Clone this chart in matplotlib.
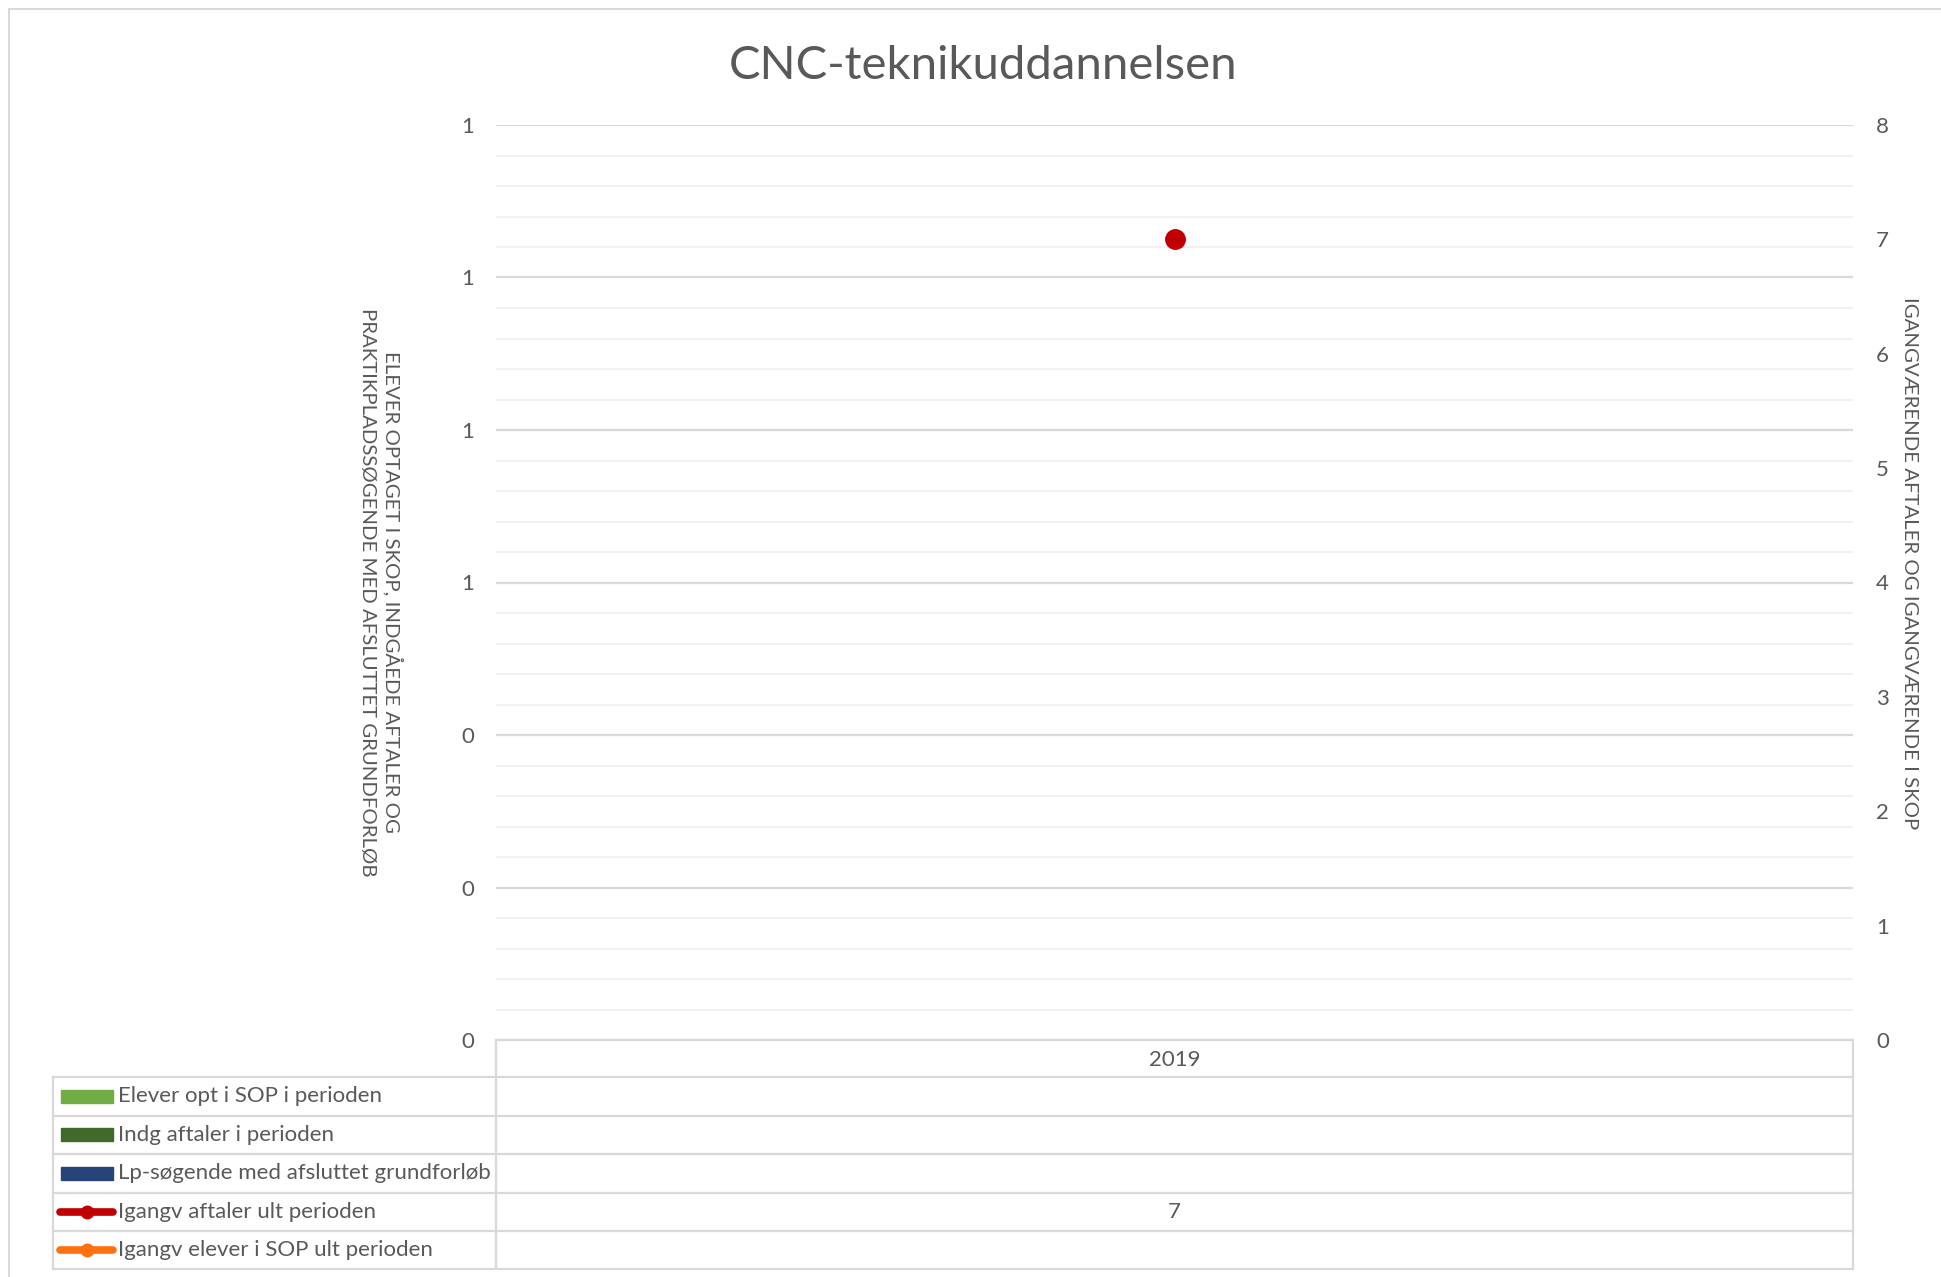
import matplotlib
matplotlib.use("Agg")
import matplotlib.pyplot as plt
from matplotlib.ticker import FormatStrFormatter, MultipleLocator
from matplotlib.lines import Line2D
from matplotlib.patches import Rectangle

plt.rcParams['font.family'] = ['Lato', 'DejaVu Sans']

# data
title = "CNC-teknikuddannelsen"
categories = ['2019']
series_names = ['Elever opt i SOP i perioden',
                'Indg aftaler i perioden',
                'Lp-søgende med afsluttet grundforløb',
                'Igangv aftaler ult perioden',
                'Igangv elever i SOP ult perioden']
elever_opt = [None]
indg_aftaler = [None]
lp_soegende = [None]
igangv_aftaler = [7]
igangv_elever = [None]
left_label = "ELEVER OPTAGET I SKOP, INDGÅEDE AFTALER OG\nPRAKTIKPLADSSØGENDE MED AFSLUTTET GRUNDFORLØB"
right_label = "IGANGVÆRENDE AFTALER OG IGANGVÆRENDE I SKOP"

series_values = [elever_opt, indg_aftaler, lp_soegende, igangv_aftaler, igangv_elever]
series_colors = ['#70AD47', '#43682B', '#264478', '#C00000', '#FF7010']
series_kind = ['bar', 'bar', 'bar', 'line', 'line']

W, H = 1941, 1277
fig = plt.figure(figsize=(W / 100, H / 100), dpi=100)

txt = '#595959'
grid_major = '#D9D9D9'
grid_minor = '#F2F2F2'

def fx(px):
    return px / W

def fy(py):
    return 1 - py / H

# plot area in pixels
L, R, T, B = 496, 1853, 125, 1040
ax = fig.add_axes([fx(L), fy(B), fx(R - L), (B - T) / H])
ax2 = ax.twinx()

x = list(range(len(categories)))
ax.set_xlim(-0.5, len(categories) - 0.5)
ax.set_ylim(0, 1.2)
ax.yaxis.set_major_locator(MultipleLocator(0.2))
ax.yaxis.set_minor_locator(MultipleLocator(0.04))
ax.yaxis.set_major_formatter(FormatStrFormatter('%.0f'))
ax.grid(axis='y', which='major', color=grid_major, lw=1.6)
ax.grid(axis='y', which='minor', color=grid_minor, lw=1.4)
ax.set_axisbelow(True)
ax.set_xticks([])
ax.tick_params(axis='y', which='both', length=0, labelsize=16, labelcolor=txt, pad=16)
for s in ax.spines.values():
    s.set_visible(False)

ax2.set_ylim(0, 8)
ax2.yaxis.set_major_locator(MultipleLocator(1))
ax2.tick_params(axis='y', length=0, labelsize=16, labelcolor=txt, pad=16.5)
for s in ax2.spines.values():
    s.set_visible(False)

# bar series (empty here) and line series
nb = sum(1 for k in series_kind if k == 'bar')
bw = 0.8 / nb
bi = 0
for name, vals, col, kind in zip(series_names, series_values, series_colors, series_kind):
    if kind == 'bar':
        for xi, v in zip(x, vals):
            if v is not None:
                ax.bar(xi - 0.4 + bw * (bi + 0.5), v, width=bw, color=col)
        bi += 1
    else:
        xs = [xi for xi, v in zip(x, vals) if v is not None]
        ys = [v for v in vals if v is not None]
        if ys:
            ax2.plot(xs, ys, color=col, lw=4.5, marker='o', markersize=14, zorder=5)

# title and axis labels
fig.text(fx(983), fy(66), title, ha='center', va='center', fontsize=34, color=txt)
fig.text(fx(381), fy(592), left_label, ha='center', va='center', rotation=270,
         fontsize=14.7, color=txt, linespacing=1.5)
fig.text(fx(1910), fy(563), right_label, ha='center', va='center', rotation=270,
         fontsize=14.7, color=txt)

# data table
tL = 53
rows_y = [1040, 1077, 1115.5, 1154, 1192.5, 1231, 1269]
tax = fig.add_axes([0, 0, 1, 1])
tax.set_xlim(0, W)
tax.set_ylim(H, 0)
tax.axis('off')
tax.patch.set_alpha(0)

lc = '#D9D9D9'
lw = 1.6
# chart border
tax.add_line(Line2D([9, 9], [9, H + 5], color=lc, lw=1.4))
tax.add_line(Line2D([9, W + 5], [9, 9], color=lc, lw=1.4))
# header row
tax.add_line(Line2D([L, R], [rows_y[0], rows_y[0]], color=lc, lw=lw))
tax.add_line(Line2D([L, L], [rows_y[0], rows_y[-1]], color=lc, lw=lw))
tax.add_line(Line2D([R, R], [rows_y[0], rows_y[-1]], color=lc, lw=lw))
tax.add_line(Line2D([tL, tL], [rows_y[1], rows_y[-1]], color=lc, lw=lw))
for yy in rows_y[1:]:
    tax.add_line(Line2D([tL, R], [yy, yy], color=lc, lw=lw))

colw = (R - L) / len(categories)
for i, c in enumerate(categories):
    tax.text(L + colw * (i + 0.5), (rows_y[0] + rows_y[1]) / 2 + 2, c,
             ha='center', va='center', fontsize=16, color=txt)

for r, (name, vals, col, kind) in enumerate(zip(series_names, series_values, series_colors, series_kind)):
    yc = (rows_y[r + 1] + rows_y[r + 2]) / 2
    if kind == 'bar':
        tax.add_patch(Rectangle((61, yc - 6.5), 52, 13, color=col))
    else:
        tax.add_line(Line2D([60, 113], [yc, yc], color=col, lw=5.5,
                            solid_capstyle='round'))
        tax.add_line(Line2D([87], [yc], color=col, marker='o', markersize=9))
    tax.text(118, yc, name, ha='left', va='center', fontsize=16, color=txt)
    for i, v in enumerate(vals):
        if v is not None:
            tax.text(L + colw * (i + 0.5), yc, str(v), ha='center', va='center',
                     fontsize=16, color=txt)

fig.savefig('out.png', dpi=100, facecolor='white')
